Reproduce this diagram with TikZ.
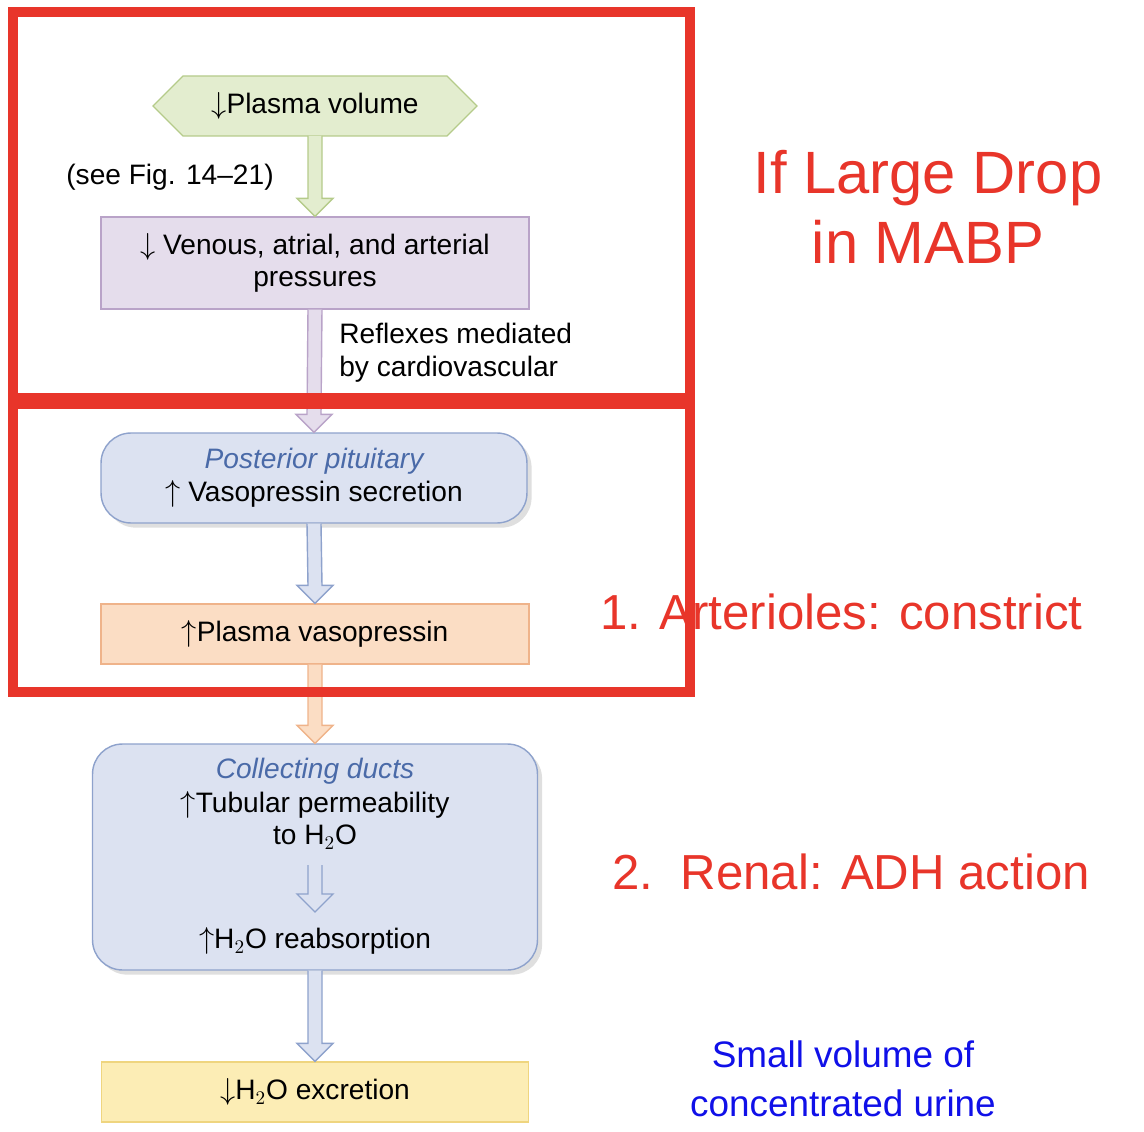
\documentclass[tikz,border=0pt]{standalone}
\usepackage{fontspec}
\setmainfont{Liberation Sans}
\usetikzlibrary{calc,shadows}
\definecolor{hexfill}{HTML}{E3EDCF}\definecolor{hexline}{HTML}{B5CB8A}
\definecolor{lilfill}{HTML}{E5DDEC}\definecolor{lilline}{HTML}{B9A3C8}
\definecolor{bluefill}{HTML}{DCE2F1}\definecolor{blueline}{HTML}{8EA2CC}
\definecolor{orgfill}{HTML}{FBDDC4}\definecolor{orgline}{HTML}{EFB38A}
\definecolor{yelfill}{HTML}{FCEDB5}\definecolor{yelline}{HTML}{EFD57F}
\definecolor{ital}{HTML}{4A6AA8}\definecolor{redmark}{HTML}{E8352A}
\definecolor{note}{HTML}{1010E8}
\newcommand{\blockarrow}[3]{\draw[line width=0.8pt, #3] ($(#1)+(-7,0)$) -- ($(#2)+(-7,-18)$) -- ++(-11,0) -- (#2) -- ++(18,-18) -- ++(-11,0) -- ($(#1)+(7,0)$);}
\begin{document}
\begin{tikzpicture}[x=0.02cm,y=-0.02cm,
  box/.style={rectangle, draw, line width=0.8pt, inner sep=0pt, font=\fontsize{16}{18.5}\selectfont, align=center},
  soft/.style={box, rounded corners=0.6cm, draw=blueline, fill=bluefill, drop shadow={opacity=0.25}},
  txt/.style={font=\fontsize{16}{18.5}\selectfont, align=center, inner sep=0pt},
  big/.style={font=\fontsize{34}{40}\selectfont, text=redmark, align=center, inner sep=0pt},
  side/.style={font=\fontsize{28}{30}\selectfont, text=redmark, anchor=west, inner sep=0pt}]
\useasboundingbox (0,0) rectangle (1144,1132);
% Boxes
\draw[hexline, fill=hexfill, line width=0.8pt] (153,106) -- (183,76) -- (447,76) -- (477,106) -- (447,136) -- (183,136) -- cycle;
\node[txt] (plasma) at (315,106) {$\downarrow$Plasma volume};
\coordinate (plasmab) at (315,136);
\node[txt, anchor=west] (see) at (66,177) {(see Fig. 14--21)};
\node[box, draw=lilline, fill=lilfill, minimum width=8.56cm, minimum height=1.84cm] (press) at (315,263) {$\downarrow$ Venous, atrial, and arterial\\pressures};
\node[txt, anchor=north west, align=left] (reflex) at (339,323) {Reflexes mediated\\by cardiovascular};
\node[soft, minimum width=8.52cm, minimum height=1.8cm] (pit) at (314,478) {{\itshape\color{ital}Posterior pituitary}\\$\uparrow$ Vasopressin secretion};
\node[box, draw=orgline, fill=orgfill, minimum width=8.56cm, minimum height=1.2cm] (vaso) at (315,634) {$\uparrow$Plasma vasopressin};
\node[soft, minimum width=8.9cm, minimum height=4.52cm] (duct) at (315,857) {};
\node[txt] (ducttitle) at (315,771) {\itshape\color{ital}Collecting ducts};
\node[txt] (perm) at (315,820) {$\uparrow$Tubular permeability\\to H$_2$O};
\node[txt] (reabs) at (315,941) {$\uparrow$H$_2$O reabsorption};
\node[box, draw=yelline, fill=yelfill, minimum width=8.54cm, minimum height=1.2cm] (excr) at (315,1092) {$\downarrow$H$_2$O excretion};

% Arrows
\blockarrow{plasmab}{press.north}{hexline, fill=hexfill}
\blockarrow{press.south}{pit.north}{lilline, fill=lilfill}
\blockarrow{pit.south}{vaso.north}{blueline, fill=bluefill}
\blockarrow{vaso.south}{duct.north}{orgline, fill=orgfill}
\blockarrow{duct.south}{excr.north}{blueline, fill=bluefill}
\coordinate (inA) at (315,865);
\coordinate (inB) at (315,912);
\blockarrow{inA}{inB}{blueline}

% Marks
\draw[redmark, line width=0.2cm] (13,12) rectangle (690,398);
\draw[redmark, line width=0.2cm] (13,404) rectangle (690,692);
\node[big] (drop) at (928,207) {If Large Drop\\in MABP};
\node[side] (art) at (600,612) {1. Arterioles: constrict};
\node[side] (renal) at (612,872) {2.\ \ Renal: ADH action};
\node[font=\fontsize{21}{28}\selectfont, text=note, align=center, inner sep=0pt] (urine) at (843,1079) {Small volume of\\concentrated urine};
\end{tikzpicture}
\end{document}
